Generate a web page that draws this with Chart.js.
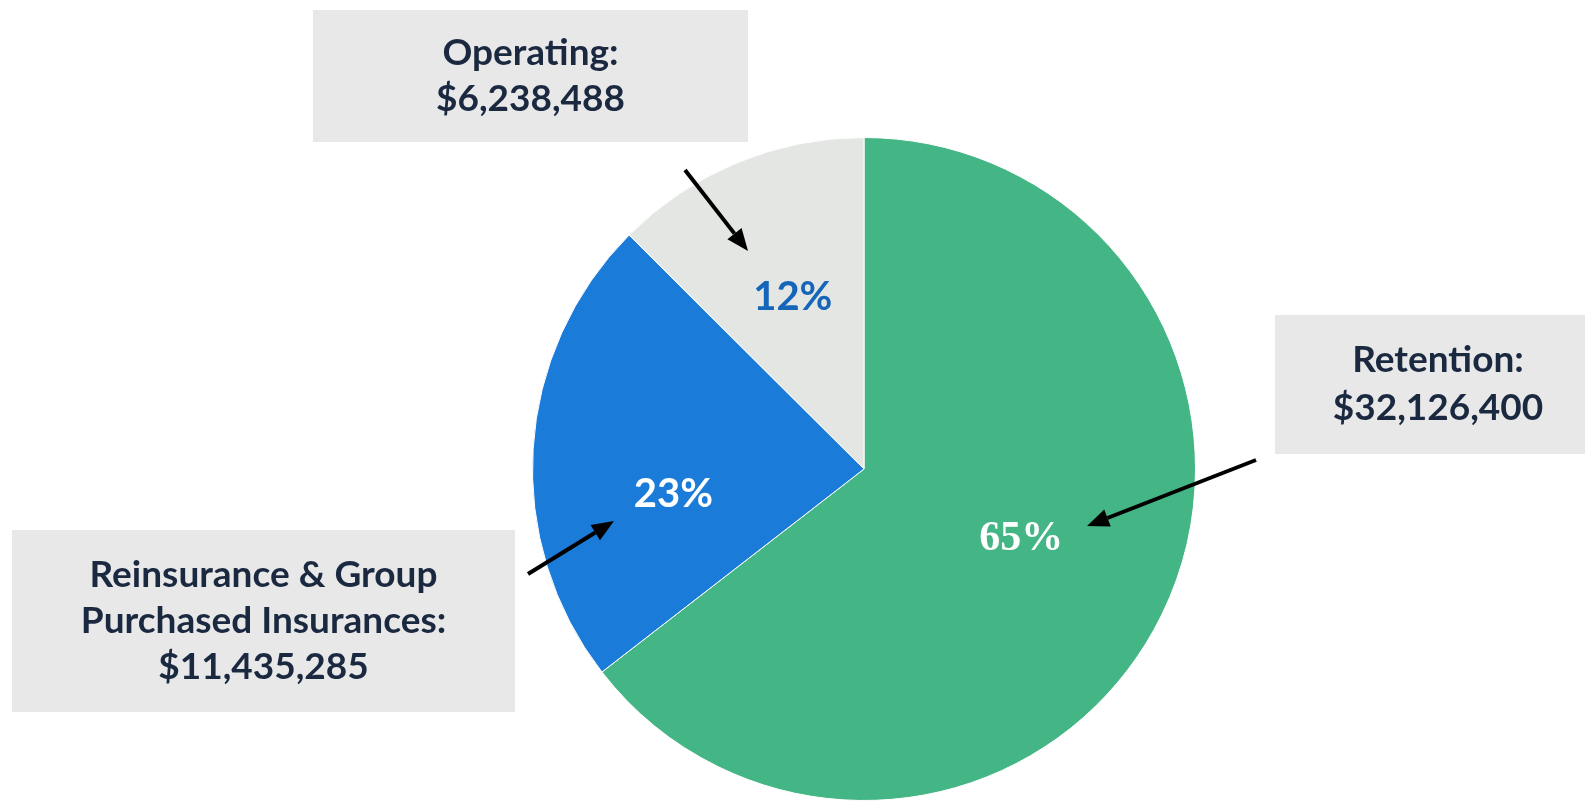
<!DOCTYPE html>
<html>
<head>
<meta charset="utf-8">
<title>Budget split</title>
<script src="https://cdn.jsdelivr.net/npm/chart.js@4.4.1/dist/chart.umd.min.js"></script>
<style>
    html, body { margin: 0; padding: 0; background: #fff; }
    #wrap { width: 1585px; height: 801px; }
</style>
</head>
<body>
<div id="wrap"><canvas id="myChart" width="1585" height="801"></canvas></div>
<script>
// data
const categories = ['Retention', 'Reinsurance & Group Purchased Insurances', 'Operating'];
const amounts = [32126400, 11435285, 6238488];
const pctLabels = ['65%', '23%', '12%'];
const boxTitles = [['Retention:'], ['Reinsurance & Group', 'Purchased Insurances:'], ['Operating:']];
const colors = ['#44b584', '#1b7bd9', '#e4e6e4'];

const money = v => '$' + v.toLocaleString('en-US');

const calloutPlugin = {
    id: 'callouts',
    afterDatasetsDraw(chart, args, opts) {
        const ctx = chart.ctx;
        const arcs = chart.getDatasetMeta(0).data;

        // percent labels inside the slices
        arcs.forEach((arc, i) => {
            const p = opts.inner[i];
            const mid = (arc.startAngle + arc.endAngle) / 2 + p.da * Math.PI / 180;
            const r = arc.outerRadius * p.f;
            ctx.save();
            ctx.font = p.font;
            ctx.fillStyle = p.color;
            ctx.textAlign = 'center';
            ctx.textBaseline = 'middle';
            ctx.fillText(pctLabels[i], arc.x + Math.cos(mid) * r, arc.y + Math.sin(mid) * r);
            ctx.restore();
        });

        // grey boxes with names and amounts
        opts.boxes.forEach((b, i) => {
            ctx.save();
            ctx.fillStyle = '#e8e8e8';
            ctx.fillRect(b.x, b.y, b.w, b.h);
            ctx.fillStyle = '#1b2940';
            ctx.font = 'bold 37px Lato';
            ctx.textAlign = 'center';
            ctx.textBaseline = 'middle';
            const lines = boxTitles[i].concat([money(amounts[i])]);
            const cx = b.x + b.w / 2 + (b.dx || 0);
            const top = b.y + b.h / 2 - (lines.length - 1) * b.lh / 2;
            lines.forEach((t, k) => ctx.fillText(t, cx, top + k * b.lh));
            ctx.restore();
        });

        // arrows
        opts.arrows.forEach(a => {
            const ang = Math.atan2(a.y2 - a.y1, a.x2 - a.x1);
            const len = 22, half = 9;
            const bx = a.x2 - Math.cos(ang) * len, by = a.y2 - Math.sin(ang) * len;
            ctx.save();
            ctx.strokeStyle = '#000';
            ctx.fillStyle = '#000';
            ctx.lineWidth = 4;
            ctx.beginPath();
            ctx.moveTo(a.x1, a.y1);
            ctx.lineTo(bx, by);
            ctx.stroke();
            ctx.beginPath();
            ctx.moveTo(a.x2, a.y2);
            ctx.lineTo(bx + Math.sin(ang) * half, by - Math.cos(ang) * half);
            ctx.lineTo(bx - Math.sin(ang) * half, by + Math.cos(ang) * half);
            ctx.closePath();
            ctx.fill();
            ctx.restore();
        });
    }
};

const ctx = document.getElementById('myChart').getContext('2d');
const myChart = new Chart(ctx, {
    type: 'pie',
    data: {
        labels: categories,
        datasets: [{
            data: amounts,
            backgroundColor: colors,
            borderColor: '#ffffff',
            borderWidth: 1
        }]
    },
    options: {
        responsive: false,
        animation: false,
        layout: {
            padding: { top: 137, bottom: 0, left: 143, right: 0 }
        },
        plugins: {
            legend: { display: false },
            tooltip: { enabled: false },
            callouts: {
                inner: [
                    { f: 0.52, da: -2, color: '#ffffff', font: 'bold 42px "Liberation Serif"' },
                    { f: 0.58, da: -11, color: '#ffffff', font: 'bold 40px Lato' },
                    { f: 0.56, da: 0, color: '#1565b8', font: 'bold 40px Lato' }
                ],
                boxes: [
                    { x: 1275, y: 315, w: 310, h: 139, lh: 48, dx: 8 },
                    { x: 12, y: 530, w: 503, h: 182, lh: 46 },
                    { x: 313, y: 10, w: 435, h: 132, lh: 46 }
                ],
                arrows: [
                    { x1: 1256, y1: 460, x2: 1087, y2: 526 },
                    { x1: 528, y1: 574, x2: 614, y2: 521 },
                    { x1: 685, y1: 170, x2: 748, y2: 251 }
                ]
            }
        }
    },
    plugins: [calloutPlugin]
});
</script>
</body>
</html>
